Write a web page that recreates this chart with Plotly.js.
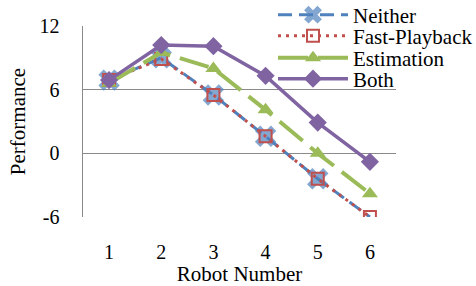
<!DOCTYPE html>
<html><head><meta charset="utf-8">
<script src="https://cdn.plot.ly/plotly-3.0.1.min.js"></script>
<style>html,body{margin:0;padding:0;background:#fff}#chart{width:476px;height:286px}</style>
</head><body><div id="chart"></div>
<script>
const robots = [1, 2, 3, 4, 5, 6];
const xTickLabels = ['1', '2', '3', '4', '5', '6'];
const yTickVals = [-6, 0, 6, 12];
const yTickLabels = ['-6', '0', '6', '12'];
const neither = [6.9, 9.0, 5.5, 1.6, -2.4, -6.0];
const fastPlayback = [6.9, 8.9, 5.5, 1.6, -2.4, -6.0];
const estimation = [6.6, 9.5, 8.0, 4.1, 0.0, -3.8];
const both = [6.9, 10.2, 10.1, 7.3, 2.9, -0.8];

const F = 'Liberation Serif, Times New Roman, serif';
const traces = [
  {x: robots, y: neither, name: 'Neither', mode: 'lines+markers', legend: 'legend',
   line: {color: '#4F81BD', width: 3, dash: '14px,7px'},
   marker: {symbol: 'x', size: [19,19,19,19,19,0], color: '#4F81BD', line: {width: 0}}},
  {x: robots, y: fastPlayback, name: 'Fast-Playback', mode: 'lines+markers', legend: 'legend2',
   line: {color: '#C0504D', width: 3, dash: '3px,5px'},
   marker: {symbol: 'square-open', size: 12, color: '#C0504D', line: {color: '#C0504D', width: 2}}},
  {x: robots, y: estimation, name: 'Estimation', mode: 'lines+markers', legend: 'legend3',
   line: {color: '#9BBB59', width: 4, dash: '30px,10px'},
   marker: {symbol: 'triangle-up', size: 14, color: '#9BBB59'}},
  {x: robots, y: both, name: 'Both', mode: 'lines+markers', legend: 'legend4',
   line: {color: '#8064A2', width: 3.5},
   marker: {symbol: 'diamond', size: 14, color: '#8064A2'}}
];
function leg(yc) {
  return {xref: 'container', yref: 'container', x: 273 / 476, xanchor: 'left', y: 1 - yc / 286, yanchor: 'middle',
          bgcolor: 'rgba(0,0,0,0)', borderwidth: 0, font: {family: F, size: 21, color: '#000'}, itemwidth: 70};
}
const layout = {
  width: 476, height: 286,
  margin: {l: 83, r: 80, t: 26, b: 69, autoexpand: false},
  paper_bgcolor: '#fff', plot_bgcolor: '#fff',
  font: {family: F, size: 20, color: '#000'},
  showlegend: true,
  legend: leg(15), legend2: leg(36), legend3: leg(58), legend4: leg(79),
  xaxis: {range: [0.5, 6.5], tickvals: robots, ticktext: xTickLabels, showgrid: false, zeroline: false,
          showline: false, ticks: '', ticklabelstandoff: 21, tickfont: {family: F, size: 20, color: '#000'},
          title: {text: 'Robot Number', font: {family: F, size: 21}, standoff: 0}, automargin: false},
  yaxis: {range: [-6, 12], tickvals: yTickVals, ticktext: yTickLabels, showgrid: true, gridcolor: '#8a8a8a', gridwidth: 1.5,
          zeroline: false, showline: true, linecolor: '#8a8a8a', linewidth: 1.5, ticks: '', ticklabelstandoff: 18,
          tickfont: {family: F, size: 20, color: '#000'},
          title: {text: 'Performance', font: {family: F, size: 21}, standoff: 8}, automargin: false}
};
Plotly.newPlot('chart', traces, layout, {staticPlot: true});
</script></body></html>
